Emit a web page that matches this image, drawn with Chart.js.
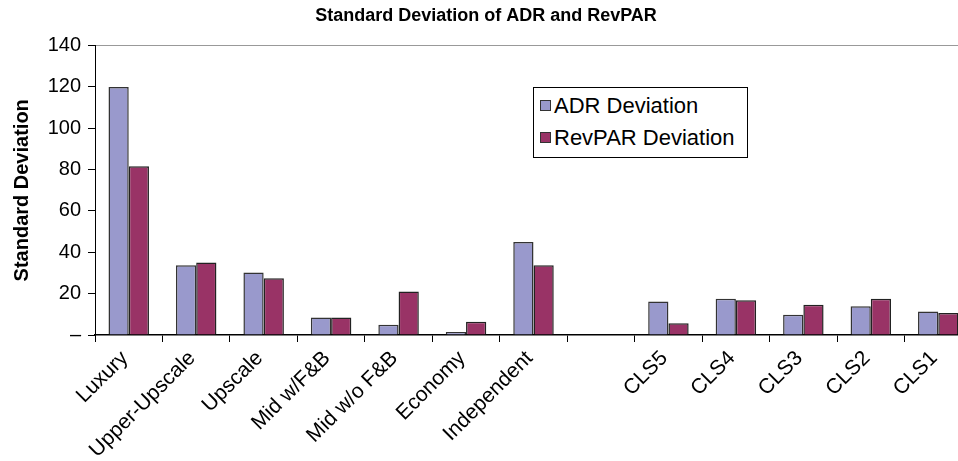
<!DOCTYPE html>
<html>
<head>
<meta charset="utf-8">
<script src="https://cdn.jsdelivr.net/npm/chart.js@4"></script>
<style>
  html, body { margin: 0; padding: 0; overflow: hidden; background: #fff; }
  #wrap { position: relative; width: 972px; height: 461px; }
  #legend {
    position: absolute; left: 533px; top: 87px; width: 213px; height: 69px;
    border: 1px solid #000; background: #fff;
    font-family: "Liberation Sans", Arial, sans-serif; font-size: 22px; color: #000;
  }
  #legend div { position: absolute; left: 6px; white-space: nowrap; line-height: 22px; }
  #legend span { display: inline-block; width: 9px; height: 9px; border: 1px solid #333; margin-right: 3px; vertical-align: 2px; }
</style>
</head>
<body>
<div id="wrap">
  <canvas id="myChart" width="972" height="461"></canvas>
  <div id="legend">
    <div style="top:7px"><span style="background:#9999cc"></span>ADR Deviation</div>
    <div style="top:39px"><span style="background:#993366"></span>RevPAR Deviation</div>
  </div>
</div>
<script>
// Data
var categories = ["Luxury", "Upper-Upscale", "Upscale", "Mid w/F&B", "Mid w/o F&B", "Economy", "Independent", "", "CLS5", "CLS4", "CLS3", "CLS2", "CLS1"];
var adrDeviation = [120, 33.7, 30.2, 8.5, 4.9, 1.4, 45, null, 16.2, 17.5, 9.8, 13.9, 11.4];
var revparDeviation = [81.6, 35.1, 27.4, 8.5, 21.1, 6.4, 33.7, null, 5.7, 16.8, 14.6, 17.5, 10.6];
var yTicks = [0, 20, 40, 60, 80, 100, 120, 140];

var font = "'Liberation Sans', Arial, sans-serif";

new Chart("myChart", {
  type: "bar",
  data: {
    labels: categories,
    datasets: [{
      label: "ADR Deviation",
      data: adrDeviation,
      backgroundColor: "#9999cc",
      borderColor: "#333",
      borderWidth: 1.5,
      categoryPercentage: 0.6,
      barPercentage: 1.0
    }, {
      label: "RevPAR Deviation",
      data: revparDeviation,
      backgroundColor: "#993366",
      borderColor: "#222",
      borderWidth: 1.5,
      categoryPercentage: 0.6,
      barPercentage: 1.0
    }]
  },
  options: {
    responsive: false,
    animation: false,
    plugins: {
      legend: { display: false },
      tooltip: { enabled: false },
      title: {
        display: true,
        text: "Standard Deviation of ADR and RevPAR",
        color: "#000",
        font: { family: font, size: 18, weight: "bold" },
        padding: { top: 5, bottom: 19 }
      }
    },
    scales: {
      x: {
        afterFit: function(scale) { scale.height = 126; },
        border: { color: "#000", width: 1.5 },
        grid: { drawOnChartArea: false, tickLength: 7, tickColor: "#000", offset: true },
        ticks: {
          color: "#000",
          font: { family: font, size: 21 },
          maxRotation: 45,
          minRotation: 45,
          autoSkip: false,
          padding: 4,
          labelOffset: -4
        }
      },
      y: {
        min: 0,
        max: 140,
        afterFit: function(scale) { scale.width = 95; },
        afterBuildTicks: function(scale) { scale.ticks = yTicks.map(function(v) { return { value: v }; }); },
        border: { color: "#000", width: 1 },
        grid: {
          color: function(ctx) { return ctx.tick && ctx.tick.value === 140 ? "#999" : "rgba(0,0,0,0)"; },
          tickColor: "#000",
          tickLength: 7
        },
        ticks: {
          color: "#000",
          font: { family: font, size: 20 },
          padding: 7,
          callback: function(v) { return v === 0 ? "\u2013" : v; }
        },
        title: {
          display: true,
          text: "Standard Deviation",
          color: "#000",
          font: { family: font, size: 20, weight: "bold" },
          padding: { top: 10, bottom: 0 }
        }
      }
    }
  }
});
</script>
</body>
</html>
